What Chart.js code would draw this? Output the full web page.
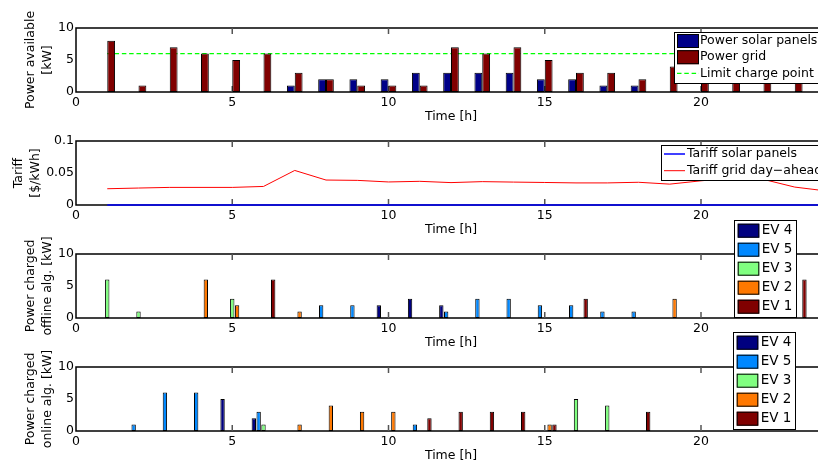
<!DOCTYPE html>
<html>
<head>
<meta charset="utf-8">
<script src="https://cdn.jsdelivr.net/npm/chart.js@4.4.1/dist/chart.umd.min.js"></script>
<style>
html, body { margin: 0; padding: 0; background: #fff; overflow: hidden; }
#wrap { position: relative; width: 818px; height: 465px; overflow: hidden; background: #fff; }
#wrap canvas { position: absolute; left: 0; }
</style>
</head>
<body>
<div id="wrap">
  <canvas id="power" width="830" height="126" style="top:0px"></canvas>
  <canvas id="tariff" width="830" height="111" style="top:128px"></canvas>
  <canvas id="offline" width="830" height="138" style="top:214px"></canvas>
  <canvas id="online" width="830" height="139" style="top:326px"></canvas>
</div>
<script>
// hours of the day
const hours = [1, 2, 3, 4, 5, 6, 7, 8, 9, 10, 11, 12, 13, 14, 15, 16, 17, 18, 19, 20, 21, 22, 23, 24];
const xTicks = [0, 5, 10, 15, 20];
const kwTicks = [0, 5, 10];
const tariffTicks = [0, 0.05, 0.1];

// power available [kW]
const solarPower = [0, 0, 0, 0, 0, 0, 1, 2, 2, 2, 3, 3, 3, 3, 2, 2, 1, 1, 0, 0, 0, 0, 0, 0];
const gridPower  = [8, 1, 7, 6, 5, 6, 3, 2, 1, 1, 1, 7, 6, 7, 5, 3, 3, 2, 4, 4, 4, 3, 3, 2];
const limitCharge = [6, 6, 6, 6, 6, 6, 6, 6, 6, 6, 6, 6, 6, 6, 6, 6, 6, 6, 6, 6, 6, 6, 6, 6];

// tariff [$/kWh]
const tariffSolar = [0, 0, 0, 0, 0, 0, 0, 0, 0, 0, 0, 0, 0, 0, 0, 0, 0, 0, 0, 0, 0, 0, 0, 0];
const tariffGrid = [0.0254, 0.0265, 0.0275, 0.0275, 0.0275, 0.029, 0.054, 0.039, 0.0385, 0.036, 0.037, 0.035,
                    0.0365, 0.0358, 0.0352, 0.0345, 0.0345, 0.0355, 0.0326, 0.0378, 0.042, 0.040, 0.028, 0.022];

// power charged, offline algorithm [kW]
const offEV4 = [0, 0, 0, 0, 0, 0, 0, 0, 0, 2, 3, 2, 0, 0, 0, 0, 0, 0, 0, 0, 0, 0, 0, 0];
const offEV5 = [0, 0, 0, 0, 0, 0, 0, 2, 2, 0, 0, 1, 3, 3, 2, 2, 1, 1, 0, 0, 0, 0, 0, 0];
const offEV3 = [6, 1, 0, 0, 3, 0, 0, 0, 0, 0, 0, 0, 0, 0, 0, 0, 0, 0, 0, 0, 0, 0, 0, 0];
const offEV2 = [0, 0, 0, 6, 2, 0, 1, 0, 0, 0, 0, 0, 0, 0, 0, 0, 0, 0, 3, 0, 0, 0, 0, 0];
const offEV1 = [0, 0, 0, 0, 0, 6, 0, 0, 0, 0, 0, 0, 0, 0, 0, 3, 0, 0, 0, 0, 0, 0, 6, 0];

// power charged, online algorithm [kW]
const onEV4 = [0, 0, 0, 0, 5, 2, 0, 0, 0, 0, 0, 0, 0, 0, 0, 0, 0, 0, 0, 0, 0, 0, 0, 0];
const onEV5 = [0, 1, 6, 6, 0, 3, 0, 0, 0, 0, 1, 0, 0, 0, 0, 0, 0, 0, 0, 0, 0, 0, 0, 0];
const onEV3 = [0, 0, 0, 0, 0, 1, 0, 0, 0, 0, 0, 0, 0, 0, 0, 5, 4, 0, 0, 0, 0, 0, 0, 0];
const onEV2 = [0, 0, 0, 0, 0, 0, 1, 4, 3, 3, 0, 0, 0, 0, 1, 0, 0, 0, 0, 0, 0, 0, 0, 0];
const onEV1 = [0, 0, 0, 0, 0, 0, 0, 0, 0, 0, 2, 3, 3, 3, 1, 0, 0, 3, 0, 0, 0, 0, 0, 0];

const evLabels = ['EV 4', 'EV 5', 'EV 3', 'EV 2', 'EV 1'];
const evColors = ['#000080', '#0088ff', '#80ff80', '#ff7800', '#800000'];

const family = '"DejaVu Sans", sans-serif';

// bars: zero means no bar
const barPts = vals => hours.map((h, i) => ({ x: h, y: vals[i] === 0 ? null : vals[i] }));
const linePts = vals => hours.map((h, i) => ({ x: h, y: vals[i] }));

// axes box + inward x ticks
const framePlugin = {
    id: 'frame',
    beforeDatasetsDraw(chart) {
        const { ctx, chartArea: a, scales: { x } } = chart;
        ctx.save();
        ctx.strokeStyle = '#000';
        ctx.lineWidth = 1.5;
        ctx.strokeRect(a.left, a.top, a.right - a.left, a.bottom - a.top);
        ctx.strokeStyle = '#555';
        xTicks.forEach(v => {
            if (v <= x.min || v >= x.max) return;
            const px = x.getPixelForValue(v);
            ctx.beginPath();
            ctx.moveTo(px, a.top); ctx.lineTo(px, a.top + 6);
            ctx.moveTo(px, a.bottom); ctx.lineTo(px, a.bottom - 6);
            ctx.stroke();
        });
        ctx.restore();
    }
};

// matplotlib-like framed legend, built from the datasets
const boxLegendPlugin = {
    id: 'boxLegend',
    afterDraw(chart, args, o) {
        if (!o || !o.w) return;
        const { ctx } = chart;
        const top = o.y - chart.canvas.offsetTop;
        ctx.save();
        ctx.fillStyle = '#fff';
        ctx.fillRect(o.x, top, o.w, o.h);
        ctx.strokeStyle = '#000';
        ctx.lineWidth = 1;
        ctx.strokeRect(o.x + 0.5, top + 0.5, o.w, o.h);
        ctx.font = o.size + 'px ' + family;
        ctx.textBaseline = 'middle';
        chart.data.datasets.forEach((ds, i) => {
            const cy = top + o.first + i * o.step;
            const sx = o.x + o.sampleX;
            if ((ds.type || chart.config.type) === 'bar') {
                ctx.fillStyle = ds.backgroundColor;
                ctx.fillRect(sx, cy - 7, o.sampleW, 14);
                ctx.strokeStyle = '#000';
                ctx.lineWidth = 1;
                ctx.strokeRect(sx + 0.5, cy - 6.5, o.sampleW - 1, 13);
            } else {
                ctx.strokeStyle = ds.borderColor;
                ctx.lineWidth = ds.borderWidth || 1;
                ctx.setLineDash(ds.borderDash || []);
                ctx.beginPath();
                ctx.moveTo(sx, cy); ctx.lineTo(sx + o.sampleW, cy);
                ctx.stroke();
                ctx.setLineDash([]);
            }
            ctx.fillStyle = '#000';
            ctx.fillText(ds.label, o.x + o.textX, cy);
        });
        ctx.restore();
    }
};

function xAxis() {
    return {
        type: 'linear', min: 0, max: 24, offset: false,
        grid: { display: false, drawTicks: false }, border: { display: false },
        afterBuildTicks: s => { s.ticks = xTicks.map(v => ({ value: v })); },
        afterFit: s => { s.height = 34; },
        ticks: { padding: 3, color: '#000', font: { family, size: 12.5 }, maxRotation: 0, autoSkip: false, callback: v => String(v) },
        title: { display: true, text: 'Time [h]', color: '#000', font: { family, size: 12.5, lineHeight: 1.25 }, padding: { top: 0, bottom: 1 } }
    };
}

function yAxis(max, tickVals, title, titlePad) {
    return {
        min: 0, max,
        grid: { display: false, drawTicks: false }, border: { display: false },
        afterBuildTicks: s => { s.ticks = tickVals.map(v => ({ value: v })); },
        afterFit: s => { s.width = 76; },
        ticks: { padding: 2, color: '#000', font: { family, size: 12.5 }, callback: v => String(v) },
        title: { display: true, text: title, color: '#000', font: { family, size: 12.5, lineHeight: 1.35 }, padding: { top: titlePad, bottom: 0 } }
    };
}

function options(padTop, y, legend) {
    return {
        responsive: false, animation: false, events: [],
        layout: { padding: { top: padTop, left: 0, right: 4, bottom: 0 } },
        plugins: { legend: { display: false }, tooltip: { enabled: false }, boxLegend: legend },
        scales: { x: xAxis(), y }
    };
}

// 1. power available
new Chart(document.getElementById('power'), {
    type: 'bar',
    data: {
        datasets: [
            { label: 'Power solar panels', data: barPts(solarPower), backgroundColor: '#000088', borderColor: '#000', borderWidth: 1, borderSkipped: false, categoryPercentage: 0.5, barPercentage: 1 },
            { label: 'Power grid', data: barPts(gridPower), backgroundColor: '#800000', borderColor: '#000', borderWidth: 1, borderSkipped: false, categoryPercentage: 0.5, barPercentage: 1 },
            { type: 'line', label: 'Limit charge point', data: linePts(limitCharge), borderColor: '#00ff00', borderWidth: 1.2, borderDash: [4.5, 2.8], pointRadius: 0 }
        ]
    },
    options: options(28, yAxis(10, kwTicks, ['Power available', '[kW]'], 22),
        { x: 674, y: 32, w: 200, h: 51, first: 9, step: 16.2, sampleX: 3, sampleW: 22, textX: 26, size: 12.5 }),
    plugins: [framePlugin, boxLegendPlugin]
});

// 2. tariff
new Chart(document.getElementById('tariff'), {
    type: 'line',
    data: {
        datasets: [
            { label: 'Tariff solar panels', data: linePts(tariffSolar), borderColor: '#0000ff', borderWidth: 1.5, pointRadius: 0, clip: false },
            { label: 'Tariff grid day\u2212ahead', data: linePts(tariffGrid), borderColor: '#ff0000', borderWidth: 1, pointRadius: 0 }
        ]
    },
    options: options(13, yAxis(0.1, tariffTicks, ['Tariff', '[$/kWh]'], 10.6),
        { x: 661, y: 145, w: 200, h: 35, first: 9, step: 16.7, sampleX: 3, sampleW: 21, textX: 26, size: 12.5 }),
    plugins: [framePlugin, boxLegendPlugin]
});

function evDatasets(series) {
    return series.map((vals, i) => ({
        label: evLabels[i], data: barPts(vals), backgroundColor: evColors[i],
        borderColor: '#000', borderWidth: 1, borderSkipped: false,
        categoryPercentage: 0.775, barPercentage: 0.9
    }));
}

// 3. offline algorithm
new Chart(document.getElementById('offline'), {
    type: 'bar',
    data: { datasets: evDatasets([offEV4, offEV5, offEV3, offEV2, offEV1]) },
    options: options(40, yAxis(10, kwTicks, ['Power charged', 'offline alg. [kW]'], 22),
        { x: 734, y: 220, w: 62, h: 97, first: 10.7, step: 19, sampleX: 3.7, sampleW: 21.6, textX: 27.7, size: 13.5 }),
    plugins: [framePlugin, boxLegendPlugin]
});

// 4. online algorithm
new Chart(document.getElementById('online'), {
    type: 'bar',
    data: { datasets: evDatasets([onEV4, onEV5, onEV3, onEV2, onEV1]) },
    options: options(41, yAxis(10, kwTicks, ['Power charged', 'online alg. [kW]'], 22),
        { x: 733, y: 332, w: 62, h: 97, first: 10.7, step: 19, sampleX: 3.7, sampleW: 21.6, textX: 27.7, size: 13.5 }),
    plugins: [framePlugin, boxLegendPlugin]
});
</script>
</body>
</html>
